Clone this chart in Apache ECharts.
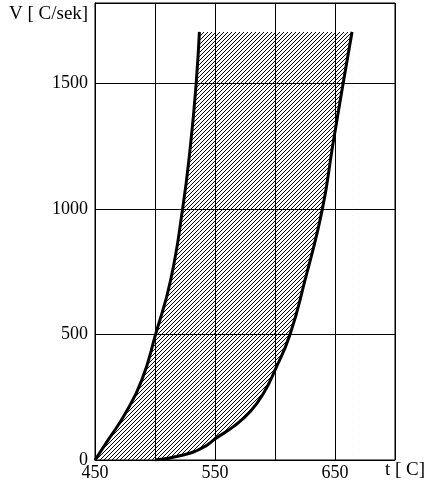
<!DOCTYPE html>
<html>
<head>
<meta charset="utf-8">
<script src="https://cdn.jsdelivr.net/npm/echarts@6/dist/echarts.min.js"></script>
<style>
html,body{margin:0;padding:0;background:#fff;}
#chart{width:438px;height:501px;}
</style>
</head>
<body>
<div id="chart"></div>
<script>
// Left boundary curve (t in °C, V in C/sek)
const leftT = [450, 461, 475.5, 489, 500.5, 513, 523, 529.5, 534.3, 537];
const leftV = [0, 80, 187, 318, 500, 716, 1000, 1250, 1500, 1705];
// Right boundary curve
const rightT = [500, 523.6, 540, 550.6, 565.3, 579.2, 590.3, 600, 612.5, 625, 639.5, 648, 656.8, 664.2];
const rightV = [0, 20, 50, 86, 133, 192, 265, 358, 500, 716, 1000, 1250, 1500, 1705];
// Axis ticks
const xTicks = [450, 550, 650];
const yTicks = [0, 500, 1000, 1500];
const yName = 'V [ C/sek]';
const xName = 't [ C]';

const leftData = leftT.map((t, i) => [t, leftV[i]]);
const rightData = rightT.map((t, i) => [t, rightV[i]]);
// flat top edge of the hatched band (joins the upper ends of both curves)
const topData = [leftData[leftData.length - 1], rightData[rightData.length - 1]];

// hatch pattern
const pc = document.createElement('canvas');
pc.width = 4; pc.height = 4;
const pctx = pc.getContext('2d');
pctx.fillStyle = '#fff';
pctx.fillRect(0, 0, 4, 4);
pctx.fillStyle = '#000';
pctx.fillRect(0, 3, 1, 1);
pctx.fillRect(1, 2, 1, 1);
pctx.fillRect(2, 1, 1, 1);
pctx.fillRect(3, 0, 1, 1);
const hatch = {image: pc, repeat: 'repeat'};

const font = 'Liberation Serif';
const chart = echarts.init(document.getElementById('chart'), null, {renderer: 'canvas'});
chart.setOption({
  animation: false,
  backgroundColor: '#fff',
  grid: {left: 95, right: 43, top: 3, bottom: 41, show: true, borderColor: '#000', borderWidth: 1, z: 10},
  xAxis: {
    type: 'value', min: 450, max: 700, interval: 50, z: 10,
    axisLine: {lineStyle: {color: '#000', width: 1}},
    axisTick: {show: false},
    splitLine: {show: true, lineStyle: {color: '#000', width: 1}},
    axisLabel: {
      margin: 4, color: '#000', fontFamily: font, fontSize: 18,
      formatter: v => xTicks.includes(v) ? String(v) : ''
    }
  },
  yAxis: {
    type: 'value', min: 0, max: 1820, interval: 500, z: 10,
    axisLine: {lineStyle: {color: '#000', width: 1}},
    axisTick: {show: false},
    splitLine: {show: true, lineStyle: {color: '#000', width: 1}},
    axisLabel: {
      margin: 7, color: '#000', fontFamily: font, fontSize: 18,
      formatter: v => yTicks.includes(v) ? String(v) : ''
    }
  },
  graphic: [
    {type: 'text', left: 9, top: 5, style: {text: yName, font: '19px "Liberation Serif"', fill: '#000'}},
    {type: 'text', left: 385, top: 461, style: {text: xName, font: '19px "Liberation Serif"', fill: '#000'}}
  ],
  series: [
    {
      type: 'line', data: topData, showSymbol: false, z: 1,
      lineStyle: {width: 0, opacity: 0},
      areaStyle: {color: hatch, opacity: 1}
    },
    {
      type: 'line', data: leftData, showSymbol: false, smooth: 0.5, z: 3,
      lineStyle: {color: '#000', width: 3},
      areaStyle: {color: hatch, opacity: 1}
    },
    {
      type: 'line', data: rightData, showSymbol: false, smooth: 0.5, z: 4,
      lineStyle: {color: '#000', width: 3},
      areaStyle: {color: '#fff', opacity: 1}
    }
  ]
});
</script>
</body>
</html>
